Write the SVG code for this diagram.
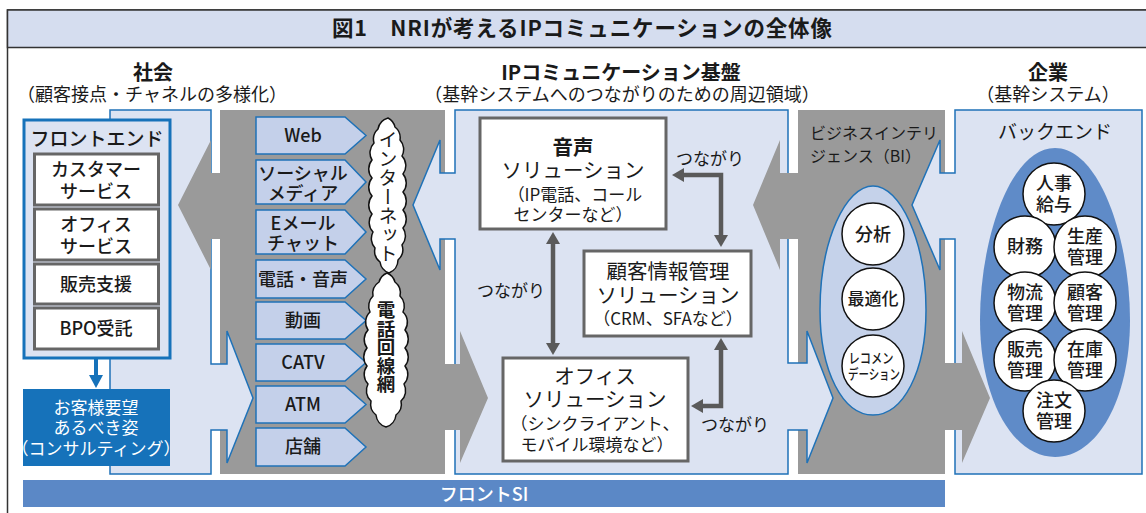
<svg xmlns="http://www.w3.org/2000/svg" width="1146" height="513" viewBox="0 0 1146 513">
<defs>
<style>
text{font-family:"Noto Sans CJK JP","Noto Sans",sans-serif;fill:#1a1a1a}
.t{font-size:17px;text-anchor:middle}
.s{font-size:17px}
.sub{font-size:18px;text-anchor:middle}
.t18{font-size:18px;text-anchor:middle;font-weight:500}
.t21{font-size:20.5px;text-anchor:middle}
.h{font-size:20px;font-weight:bold;text-anchor:middle}
.panel{fill:#dce3f2;stroke:#1f72b8;stroke-width:1.5}
.gray{fill:#9a9a9a}
.ch{fill:#c4d0ea;stroke:#1f72b8;stroke-width:1.5}
.wb{fill:#fff;stroke:#666;stroke-width:3}
.circ{fill:#fff;stroke:#111;stroke-width:1.5}
.cloud{fill:#fff;stroke:#111;stroke-width:1.5}
.conn{fill:none;stroke:#5a5a5a;stroke-width:4.5;marker-start:url(#ah);marker-end:url(#ah)}
.wt{fill:#fff}
</style>
<marker id="ah" markerUnits="userSpaceOnUse" markerWidth="14" markerHeight="14" refX="0" refY="7" orient="auto-start-reverse" viewBox="0 0 14 14"><path d="M0,0 L12,7 L0,14 Z" fill="#5a5a5a"/></marker>
</defs>
<rect x="0" y="0" width="1146" height="513" fill="#fff"/>
<g id="frame">
<rect x="7.5" y="10" width="1150" height="520" fill="#fff" stroke="#333" stroke-width="1.5"/>
<rect x="7.5" y="10" width="1150" height="37.5" fill="#d5ddef" stroke="#333" stroke-width="1.5"/>
<text x="582" y="36" style="font-size:21.5px;font-weight:bold;text-anchor:middle" textLength="500" lengthAdjust="spacing">図1　NRIが考えるIPコミュニケーションの全体像</text>
</g>
<g id="headings">
<text class="h" x="153" y="80">社会<tspan class="sub" x="152" y="101" style="font-weight:normal">（顧客接点・チャネルの多様化）</tspan></text>
<text class="h" x="621" y="80">IPコミュニケーション基盤<tspan class="sub" x="622" y="101" style="font-weight:normal">（基幹システムへのつながりのための周辺領域）</tspan></text>
<text class="h" x="1048" y="80">企業<tspan class="sub" x="1048" y="101" style="font-weight:normal">（基幹システム）</tspan></text>
</g>
<g id="bands">
<rect class="gray" x="220" y="110" width="225" height="364"/>
<rect class="gray" x="798" y="110" width="147" height="364"/>
<polygon class="panel" points="110,110 211,110 211,364 227,364 227,331 253,398 227,463 227,430 211,430 211,474 110,474"/>
<polygon class="panel" points="455,110 788,110 788,363 807,363 807,331 833,398 807,463 807,430 788,430 788,474 455,474 455,239 440,239 440,270 413,205 440,140 440,173 455,173"/>
<polygon class="panel" points="955,110 1142,110 1142,474 955,474 955,239 940,239 940,270 912,205 940,140 940,173 955,173"/>
<polygon class="gray" points="222,173 211,173 211,140 178,205 211,270 211,239 222,239"/>
<polygon class="gray" points="443,364 460,364 460,331 488,398 460,463 460,430 443,430"/>
<polygon class="gray" points="800,173 780,173 780,140 753,205 780,270 780,239 800,239"/>
<polygon class="gray" points="943,363 962,363 962,331 990,398 962,463 962,430 943,430"/>
</g>
<g id="frontend">
<rect x="24" y="120" width="146" height="238" fill="#dce3f2" stroke="#1672ba" stroke-width="3"/>
<text x="97" y="146" style="font-size:19px;text-anchor:middle;font-weight:500">フロントエンド</text>
</g>
<g id="customer-service">
<rect class="wb" x="34.5" y="154" width="124" height="51"/>
<text class="t18" x="96" y="176">カスタマー<tspan x="96" y="198">サービス</tspan></text>
</g>
<g id="office-service">
<rect class="wb" x="34.5" y="209" width="124" height="51"/>
<text class="t18" x="96" y="231">オフィス<tspan x="96" y="253">サービス</tspan></text>
</g>
<g id="sales-support">
<rect class="wb" x="34.5" y="264" width="124" height="40"/>
<text class="t18" x="96" y="291">販売支援</text>
</g>
<g id="bpo">
<rect class="wb" x="34.5" y="308" width="124" height="41"/>
<text class="t18" x="96" y="335">BPO受託</text>
</g>
<g id="consulting">
<rect x="23" y="389" width="147" height="77" fill="#1672ba"/>
<text class="t wt" x="96" y="414">お客様要望<tspan x="96" y="434">あるべき姿</tspan><tspan x="96" y="455">（コンサルティング）</tspan></text>
</g>
<g id="channels">
<g id="ch-web"><polygon class="ch" points="256,117 345,117 366,135.5 345,154 256,154"/><text class="t18" x="303" y="142">Web</text></g>
<g id="ch-social"><polygon class="ch" points="256,160 345,160 366,182 345,204 256,204"/><text class="t18" x="303" y="180">ソーシャル<tspan x="303" y="200">メディア</tspan></text></g>
<g id="ch-email"><polygon class="ch" points="256,210 345,210 366,232 345,254 256,254"/><text class="t18" x="303" y="230">Eメール<tspan x="303" y="250">チャット</tspan></text></g>
<g id="ch-phone"><polygon class="ch" points="256,260 345,260 366,279 345,298 256,298"/><text class="t18" x="303" y="286">電話・音声</text></g>
<g id="ch-video"><polygon class="ch" points="256,302 345,302 366,320.5 345,339 256,339"/><text class="t18" x="303" y="327">動画</text></g>
<g id="ch-catv"><polygon class="ch" points="256,344 345,344 366,362.5 345,381 256,381"/><text class="t18" x="303" y="369">CATV</text></g>
<g id="ch-atm"><polygon class="ch" points="256,386 345,386 366,404.5 345,423 256,423"/><text class="t18" x="303" y="411">ATM</text></g>
<g id="ch-shop"><polygon class="ch" points="256,428 345,428 366,447 345,466 256,466"/><text class="t18" x="303" y="453">店舗</text></g>
</g>
<g id="internet">
<path class="cloud" d="M388,118 A14,14 0 0 1 395,127 A14,14 0 0 1 400,140 A14,14 0 0 1 402,156 A14,14 0 0 1 403,174 A14,14 0 0 1 403,192 A14,14 0 0 1 403,210 A14,14 0 0 1 403,228 A14,14 0 0 1 402,245 A14,14 0 0 1 398,260 A14,14 0 0 1 389,273 A14,14 0 0 1 380,262 A14,14 0 0 1 375,248 A14,14 0 0 1 373,232 A14,14 0 0 1 372,214 A14,14 0 0 1 372,196 A14,14 0 0 1 372,178 A14,14 0 0 1 372,160 A14,14 0 0 1 374,143 A14,14 0 0 1 378,129 A14,14 0 0 1 388,118 Z"/>
<text x="388" y="130" style="writing-mode:vertical-rl;font-size:19px">インターネット</text>
</g>
<g id="phone-network">
<path class="cloud" d="M387,273 A14,14 0 0 1 395,282 A14,14 0 0 1 400,296 A14,14 0 0 1 403,312 A14,14 0 0 1 405,330 A14,14 0 0 1 405,348 A14,14 0 0 1 405,366 A14,14 0 0 1 404,384 A14,14 0 0 1 401,401 A14,14 0 0 1 396,415 A14,14 0 0 1 386,427 A14,14 0 0 1 376,415 A14,14 0 0 1 371,401 A14,14 0 0 1 368,384 A14,14 0 0 1 367,366 A14,14 0 0 1 367,348 A14,14 0 0 1 368,330 A14,14 0 0 1 370,312 A14,14 0 0 1 373,296 A14,14 0 0 1 379,282 A14,14 0 0 1 387,273 Z"/>
<text x="386" y="301" style="writing-mode:vertical-rl;font-size:18.5px;font-weight:bold">電話回線網</text>
</g>
<g id="voice-solution">
<rect class="wb" x="480" y="118" width="186" height="111"/>
<text class="t21" x="573" y="155"><tspan style="font-weight:bold">音声</tspan><tspan x="573" y="178">ソリューション</tspan><tspan class="s" x="575" y="201">（IP電話、コール</tspan><tspan class="s" x="573" y="221">センターなど）</tspan></text>
</g>
<g id="crm-solution">
<rect class="wb" x="584" y="251" width="167" height="85"/>
<text class="t21" x="668" y="279">顧客情報管理<tspan x="668" y="303">ソリューション</tspan><tspan class="s" x="668" y="325">（CRM、SFAなど）</tspan></text>
</g>
<g id="office-solution">
<rect class="wb" x="503" y="358" width="185" height="103"/>
<text class="t21" x="595" y="384">オフィス<tspan x="595" y="407">ソリューション</tspan><tspan class="s" x="595" y="430">（シンクライアント、</tspan><tspan class="s" x="597" y="451">モバイル環境など）</tspan></text>
</g>
<g id="connectors">
<path class="conn" d="M553,244 L553,343"/>
<path class="conn" d="M684,175 L721,175 L721,235"/>
<path class="conn" d="M721,350 L721,406 L703,406"/>
<text class="t" x="710" y="165">つながり</text>
<text class="t" x="511" y="297">つながり</text>
<text class="t" x="735" y="431">つながり</text>
</g>
<g id="bi">
<text x="810" y="139" style="font-size:16px">ビジネスインテリ<tspan x="810" y="162">ジェンス（BI）</tspan></text>
<path d="M873,186 C900,186 926,240 926,310 C926,372 903,415 873,415 C843,415 820,372 820,310 C820,240 846,186 873,186 Z" fill="#c5d2ea" stroke="#1f72b8" stroke-width="1.5"/>
</g>
<g id="analysis"><circle class="circ" cx="873" cy="234" r="31"/><text class="t18" x="873" y="241">分析</text></g>
<g id="optimization"><circle class="circ" cx="873" cy="299" r="31"/><text class="t" x="873" y="305" style="font-weight:500">最適化</text></g>
<g id="recommendation"><circle class="circ" cx="873" cy="366" r="31"/><text style="font-size:14px;font-weight:500;text-anchor:middle"><tspan x="871" y="363" textLength="45" lengthAdjust="spacingAndGlyphs">レコメン</tspan><tspan x="874" y="379" textLength="52" lengthAdjust="spacingAndGlyphs">デーション</tspan></text></g>
<g id="backend">
<text x="1055" y="139" style="font-size:19px;text-anchor:middle">バックエンド</text>
<path d="M1055,148 C1100,148 1130,240 1130,320 C1130,400 1097,457 1055,457 C1013,457 980,400 980,320 C980,240 1010,148 1055,148 Z" fill="#5f8bc8"/>
</g>
<g id="hr"><circle class="circ" cx="1054" cy="194" r="31"/><text class="t18" x="1054" y="190">人事<tspan x="1054" y="211">給与</tspan></text></g>
<g id="finance"><circle class="circ" cx="1025" cy="247" r="31"/><text class="t18" x="1025" y="253">財務</text></g>
<g id="production"><circle class="circ" cx="1085" cy="247" r="31"/><text class="t18" x="1085" y="243">生産<tspan x="1085" y="264">管理</tspan></text></g>
<g id="logistics"><circle class="circ" cx="1025" cy="303" r="31"/><text class="t18" x="1025" y="299">物流<tspan x="1025" y="320">管理</tspan></text></g>
<g id="customer-mgmt"><circle class="circ" cx="1085" cy="303" r="31"/><text class="t18" x="1085" y="299">顧客<tspan x="1085" y="320">管理</tspan></text></g>
<g id="sales-mgmt"><circle class="circ" cx="1025" cy="360" r="31"/><text class="t18" x="1025" y="356">販売<tspan x="1025" y="377">管理</tspan></text></g>
<g id="inventory"><circle class="circ" cx="1085" cy="360" r="31"/><text class="t18" x="1085" y="356">在庫<tspan x="1085" y="377">管理</tspan></text></g>
<g id="order"><circle class="circ" cx="1054" cy="411" r="31"/><text class="t18" x="1054" y="407">注文<tspan x="1054" y="428">管理</tspan></text></g>
<g id="front-si">
<rect x="23" y="480" width="922" height="27" fill="#5b88c6"/>
<text x="484" y="501" style="font-size:18px;text-anchor:middle;fill:#fff;font-weight:500">フロントSI</text>
</g>
<g id="down-arrow">
<line x1="96" y1="358" x2="96" y2="376" stroke="#1672ba" stroke-width="4"/>
<polygon points="89,375 103,375 96,388" fill="#1672ba"/>
</g>
</svg>
